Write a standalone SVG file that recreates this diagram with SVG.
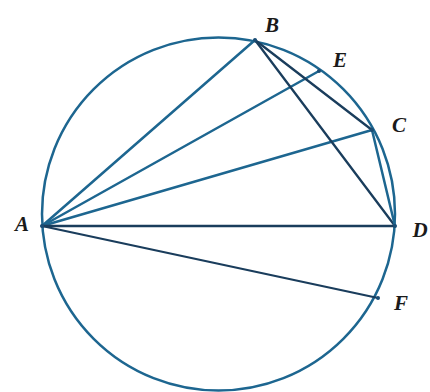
<svg xmlns="http://www.w3.org/2000/svg" width="430" height="392" viewBox="0 0 430 392">
<style>
.c{fill:none;stroke:#1d6690;stroke-width:2.5}
.l{stroke:#1d6690;stroke-width:2.5;stroke-linecap:round}
.d{stroke:#1a3d5c;stroke-width:2.3;stroke-linecap:round}
.p{fill:#1a4d75}
.t{font-family:"Liberation Serif","Times New Roman",serif;font-style:italic;font-weight:bold;font-size:21px;fill:#1a1a1a;text-anchor:middle}
</style>
<rect width="430" height="392" fill="#ffffff"/>
<g id="circle"><circle class="c" cx="218.5" cy="214" r="176.5"/></g>
<g id="connectors">
<line class="l" x1="42" y1="226" x2="255" y2="40"/>
<line class="l" x1="42" y1="226" x2="319" y2="71"/>
<line class="l" x1="42" y1="226" x2="372" y2="130"/>
<line class="d" x1="42" y1="226" x2="395" y2="226"/>
<line class="d" x1="42" y1="226" x2="378" y2="298"/>
<line class="d" x1="255" y1="40" x2="395" y2="226"/>
<line class="d" x1="255" y1="40" x2="372" y2="130"/>
<line class="l" x1="372" y1="130" x2="395" y2="226"/>
</g>
<g id="A"><circle class="p" cx="42" cy="226" r="2"/><text class="t" x="22" y="231">A</text></g>
<g id="B"><circle class="p" cx="255" cy="40" r="2"/><text class="t" x="272" y="32">B</text></g>
<g id="E"><circle class="p" cx="319" cy="71" r="2"/><text class="t" x="340" y="67">E</text></g>
<g id="C"><circle class="p" cx="372" cy="130" r="2"/><text class="t" x="399" y="132">C</text></g>
<g id="D"><circle class="p" cx="395" cy="226" r="2"/><text class="t" x="420" y="237">D</text></g>
<g id="F"><circle class="p" cx="378" cy="298" r="2"/><text class="t" x="401" y="310">F</text></g>
</svg>
